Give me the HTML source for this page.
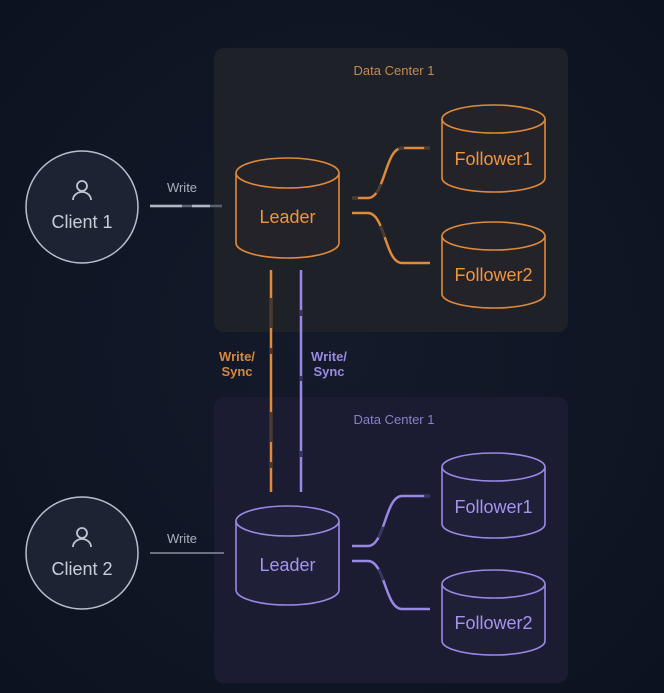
<!DOCTYPE html>
<html><head><meta charset="utf-8"><style>
html,body{margin:0;padding:0;background:#0e1522;}
svg{display:block}
text{font-family:"Liberation Sans",sans-serif}
</style></head><body>
<svg width="664" height="693" viewBox="0 0 664 693" xmlns="http://www.w3.org/2000/svg">
<defs>
<radialGradient id="bg" cx="0.5" cy="0.5" r="0.7"><stop offset="0" stop-color="#141a2a"/><stop offset="1" stop-color="#0c1320"/></radialGradient>
</defs>
<rect width="664" height="693" fill="url(#bg)"/>
<rect x="214" y="48" width="354" height="284" rx="10" fill="#1f2129"/>
<rect x="214" y="397" width="354" height="286" rx="10" fill="#1b1c31"/>
<text x="394" y="75" fill="#c68a4f" font-size="13" text-anchor="middle">Data Center 1</text>
<text x="394" y="424" fill="#8a7fd0" font-size="13" text-anchor="middle">Data Center 1</text>

<g stroke="#b8bfcc" stroke-width="1.5" fill="#1c2433">
<circle cx="82" cy="207" r="56"/>
<circle cx="82" cy="553" r="56"/>
</g>
<g stroke="#c0c6d0" stroke-width="1.8" fill="none">
<circle cx="82" cy="186" r="5"/><path d="M73 200 a9 8 0 0 1 18 0"/>
<circle cx="82" cy="533" r="5"/><path d="M73 547 a9 8 0 0 1 18 0"/>
</g>
<text x="82" y="228" fill="#c8ced8" font-size="18" text-anchor="middle">Client 1</text>
<text x="82" y="575" fill="#c8ced8" font-size="18" text-anchor="middle">Client 2</text>
<text x="182" y="192" fill="#a9b0bd" font-size="13" text-anchor="middle">Write</text>
<text x="182" y="543" fill="#a9b0bd" font-size="13" text-anchor="middle">Write</text>
<path d="M150 206 H222" stroke="#5a6272" stroke-width="2.5"/>
<path d="M150 206 H182 M192 206 H210" stroke="#b0b7c4" stroke-width="2.5"/>
<path d="M150 553 H224" stroke="#6a7282" stroke-width="2"/>

<g stroke="#e08a3a" stroke-width="1.6" fill="#24232a">
<path d="M236 173 V243 A51.5 15 0 0 0 339 243 V173"/><ellipse cx="287.5" cy="173" rx="51.5" ry="15"/>
<path d="M442 119 V178 A51.5 14 0 0 0 545 178 V119"/><ellipse cx="493.5" cy="119" rx="51.5" ry="14"/>
<path d="M442 236 V294 A51.5 14 0 0 0 545 294 V236"/><ellipse cx="493.5" cy="236" rx="51.5" ry="14"/>
</g>
<g fill="#f0943e" font-size="18" text-anchor="middle">
<text x="287.5" y="223">Leader</text>
<text x="493.5" y="165">Follower1</text>
<text x="493.5" y="281">Follower2</text>
</g>
<g fill="none" stroke-width="2.5">
<path d="M352 198 H368 C385 198 385 148 402 148 H430" stroke="#e08a3a"/>
<path d="M352 213 H368 C385 213 385 263 402 263 H430" stroke="#e08a3a"/>
<path d="M352 198 H368 C385 198 385 148 402 148 H430" stroke="#4a3a30" stroke-dasharray="6 20 10 40"/>
<path d="M352 213 H368 C385 213 385 263 402 263 H430" stroke="#4a3a30" stroke-dasharray="0 35 12 30"/>
</g>

<g stroke="#9a88e6" stroke-width="1.6" fill="#1f1f38">
<path d="M236 521 V590 A51.5 15 0 0 0 339 590 V521"/><ellipse cx="287.5" cy="521" rx="51.5" ry="15"/>
<path d="M442 467 V524 A51.5 14 0 0 0 545 524 V467"/><ellipse cx="493.5" cy="467" rx="51.5" ry="14"/>
<path d="M442 584 V641 A51.5 14 0 0 0 545 641 V584"/><ellipse cx="493.5" cy="584" rx="51.5" ry="14"/>
</g>
<g fill="#a494ee" font-size="18" text-anchor="middle">
<text x="287.5" y="571">Leader</text>
<text x="493.5" y="513">Follower1</text>
<text x="493.5" y="629">Follower2</text>
</g>
<g fill="none" stroke-width="2.5">
<path d="M352 546 H368 C385 546 385 496 402 496 H430" stroke="#9a88e6"/>
<path d="M352 561 H368 C385 561 385 609 402 609 H430" stroke="#9a88e6"/>
<path d="M352 546 H368 C385 546 385 496 402 496 H430" stroke="#3a3560" stroke-dasharray="0 30 12 30"/>
<path d="M352 561 H368 C385 561 385 609 402 609 H430" stroke="#3a3560" stroke-dasharray="0 30 12 40"/>
</g>

<path d="M271 270 V492" stroke="#e08a3a" stroke-width="2.5"/>
<path d="M271 270 V492" stroke="#4a3a30" stroke-width="2.5" stroke-dasharray="0 28 30 20 6 30"/>
<path d="M301 270 V492" stroke="#9a88e6" stroke-width="2.5"/>
<path d="M301 270 V492" stroke="#3a3560" stroke-width="2.5" stroke-dasharray="0 40 6 60 5 30"/>
<g font-size="13" font-weight="bold" text-anchor="middle">
<text x="237" y="361" fill="#d7873e">Write/</text><text x="237" y="376" fill="#d7873e">Sync</text>
<text x="329" y="361" fill="#9a8ae0">Write/</text><text x="329" y="376" fill="#9a8ae0">Sync</text>
</g>
</svg>
</body></html>
